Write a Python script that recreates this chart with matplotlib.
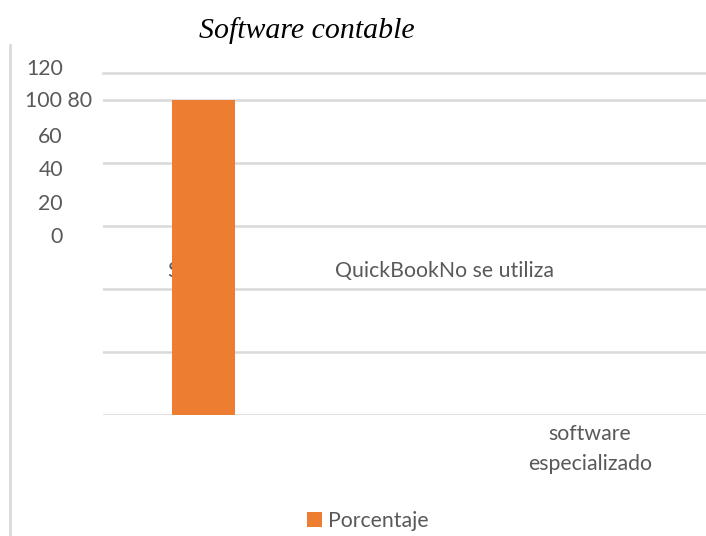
import matplotlib.pyplot as plt
from matplotlib.lines import Line2D

categories = ["Siigo", "QuickBook", "No se utiliza software especializado"]
porcentaje = [100, 0, 0]
ytick_values = [0, 20, 40, 60, 80, 100, 120]

W, H = 706, 536
ORANGE = "#ED7D31"
GRID = "#D9D9D9"
TXT = "#595959"
FONT = "Lato"
FS = 15.3


def fx(px):
    return px / W


def fy(py):
    return 1 - py / H


fig = plt.figure(figsize=(W / 100, H / 100), dpi=100)
ax = fig.add_axes([fx(103), fy(415), fx(706) - fx(103), fy(73) - fy(415)])

x = list(range(len(categories)))
ax.bar(x, porcentaje, width=0.313, color=ORANGE, zorder=3, label="Porcentaje")
ax.set_xlim(-0.5, len(categories) - 0.5)
ax.set_ylim(0, 108.6)
ax.set_yticks(ytick_values[:-1])
ax.grid(axis="y", color=GRID, linewidth=1.8, zorder=0)
ax.tick_params(left=False, bottom=False, labelleft=False, labelbottom=False)
for side in ["left", "right", "bottom"]:
    ax.spines[side].set_visible(False)
ax.spines["top"].set_color(GRID)
ax.spines["top"].set_linewidth(1.8)

# the source layout is broken: labels sit away from their ticks
ylab_pos = [(63, 69, "120"), (92, 101, "100 80"), (63, 137, "60"),
            (63, 170, "40"), (63, 204, "20"), (63, 237, "0")]
for px, py, s in ylab_pos:
    fig.text(fx(px), fy(py), s, ha="right", va="center", fontsize=FS,
             color=TXT, family=FONT)

# first category label ends up hidden behind the bar
ax.text(fx(167), fy(271), categories[0], transform=fig.transFigure,
        ha="left", va="center", fontsize=FS, color=TXT, family=FONT,
        zorder=1, clip_on=False)
ax.text(fx(335), fy(271), categories[1] + "No se utiliza",
        transform=fig.transFigure, ha="left", va="center", fontsize=FS,
        color=TXT, family=FONT, zorder=4, clip_on=False)
fig.text(fx(590), fy(449), "software\nespecializado", ha="center",
         va="center", fontsize=FS, color=TXT, family=FONT, linespacing=1.6)

fig.text(fx(307), fy(31), "Software contable", ha="center", va="center",
         fontsize=21.5, style="italic", family="Liberation Serif",
         color="black")

fig.add_artist(Line2D([fx(10), fx(10)], [fy(45), fy(536)], color=GRID,
                      linewidth=2))

fig.legend(loc="center left", bbox_to_anchor=(fx(288), fy(521)),
           frameon=False, handlelength=0.7, handleheight=0.7,
           handletextpad=0.3, prop={"family": FONT, "size": FS},
           labelcolor=TXT)

fig.savefig("out.png", dpi=100)
